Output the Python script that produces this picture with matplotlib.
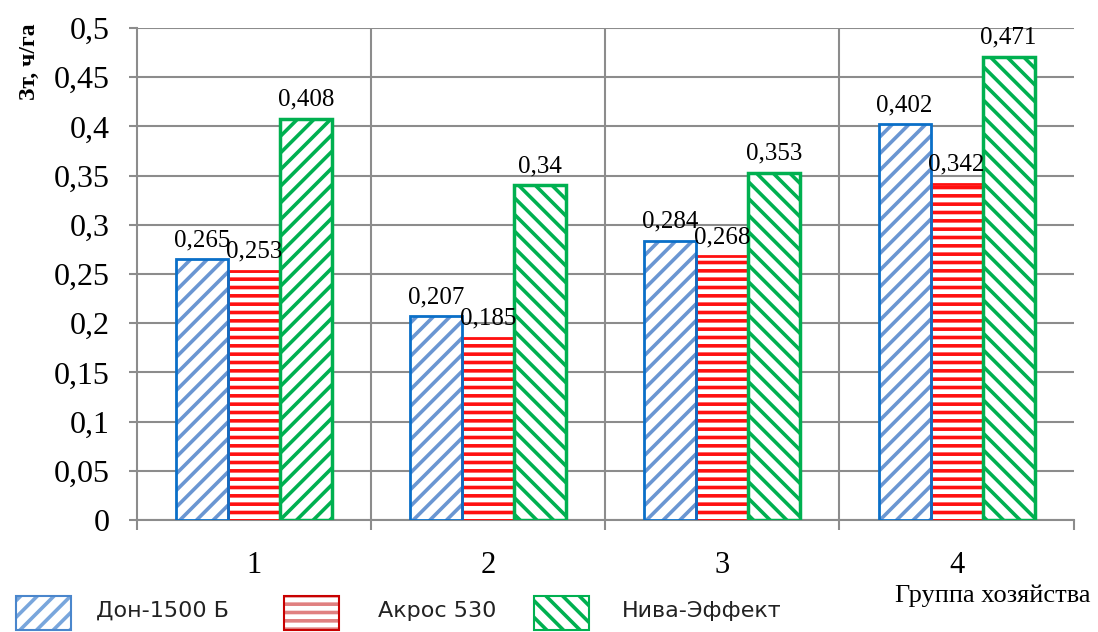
import matplotlib
matplotlib.use("Agg")
import matplotlib.pyplot as plt
from matplotlib.patches import Rectangle
import numpy as np

# data
groups = ["1", "2", "3", "4"]
don = [0.265, 0.207, 0.284, 0.402]
akros = [0.253, 0.185, 0.268, 0.342]
niva = [0.408, 0.34, 0.353, 0.471]
series_names = ["Дон-1500 Б", "Акрос 530", "Нива-Эффект"]
y_ticks = [0, 0.05, 0.1, 0.15, 0.2, 0.25, 0.3, 0.35, 0.4, 0.45, 0.5]


def comma(v):
    s = "{:g}".format(v)
    return s.replace(".", ",")


plt.rcParams["font.family"] = ["Liberation Serif", "DejaVu Serif"]
plt.rcParams["hatch.linewidth"] = 2.6

W, H = 1098, 632
fig = plt.figure(figsize=(W / 100, H / 100), dpi=100)
ax = fig.add_axes([0.1248, 0.177, 0.853, 0.7787])

x = np.arange(len(groups))
w = 0.222
grid_c = "#8c8c8c"

# blue bars: light hatch, darker outline
ax.bar(x - w, don, w, color="white", edgecolor="#6a96d2", hatch="//", linewidth=0, zorder=3)
ax.bar(x - w, don, w, fill=False, edgecolor="#0a6fc8", linewidth=2, zorder=4)
# red bars
ax.bar(x, akros, w, color="white", edgecolor="#ff1010", hatch="--", linewidth=2, zorder=3)
# green bars (first group has the other diagonal)
green_hatch = ["//", "\\\\", "\\\\", "\\\\"]
for i in range(len(groups)):
    ax.bar(x[i] + w, niva[i], w, color="white", edgecolor="#00b050",
           hatch=green_hatch[i], linewidth=2.5, zorder=3)

# value labels
for off, vals in [(-w, don), (0, akros), (w, niva)]:
    for xi, v in zip(x, vals):
        ax.annotate(comma(v), (xi + off, v), xytext=(0, 6), textcoords="offset points",
                    ha="center", va="bottom", fontsize=18, zorder=5)

ax.set_xlim(-0.5, 3.5)
ax.set_ylim(0, 0.5)
ax.set_yticks(y_ticks)
ax.set_yticklabels([comma(v) for v in y_ticks], fontsize=23)
ax.set_xticks(x)
ax.set_xticklabels(groups, fontsize=22)
ax.set_xticks(np.arange(-0.5, 4.0, 1.0), minor=True)
ax.tick_params(axis="x", which="major", length=0, pad=22)
ax.tick_params(axis="x", which="minor", length=7, color=grid_c, width=1.5)
ax.tick_params(axis="y", length=6, color=grid_c, width=1.5, pad=14)

ax.grid(axis="y", color=grid_c, linewidth=1.5, zorder=0)
for b in [0.5, 1.5, 2.5]:
    ax.axvline(b, color=grid_c, linewidth=1.5, zorder=0)

for s in ["top", "right"]:
    ax.spines[s].set_visible(False)
for s in ["left", "bottom"]:
    ax.spines[s].set_color(grid_c)
    ax.spines[s].set_linewidth(1.5)

fig.text(0.027, 0.902, "Зт, ч/га", rotation=90, ha="center", va="center",
         fontsize=17, fontweight="bold")
fig.text(0.904, 0.058, "Группа хозяйства", ha="center", va="center", fontsize=19)

# legend drawn by hand to match the spacing of the original
legend_items = [
    (16, 96, "#4a86cc", "#79a6dc", "//"),
    (284, 378, "#c80000", "#e08080", "--"),
    (534, 622, "#00b050", "#00b050", "\\\\"),
]
for (px, tx, ec, hc, hatch), name in zip(legend_items, series_names):
    fig.patches.append(Rectangle((px / W, 1 - 630 / H), 55 / W, 34 / H,
                                 transform=fig.transFigure, facecolor="white",
                                 edgecolor=hc, hatch=hatch, linewidth=0))
    fig.patches.append(Rectangle((px / W, 1 - 630 / H), 55 / W, 34 / H,
                                 transform=fig.transFigure, fill=False,
                                 edgecolor=ec, linewidth=1.5))
    fig.text(tx / W, 1 - 611 / H, name, ha="left", va="center",
             fontsize=16, family="DejaVu Sans", color="#222222")

fig.savefig("out.png", dpi=100)
